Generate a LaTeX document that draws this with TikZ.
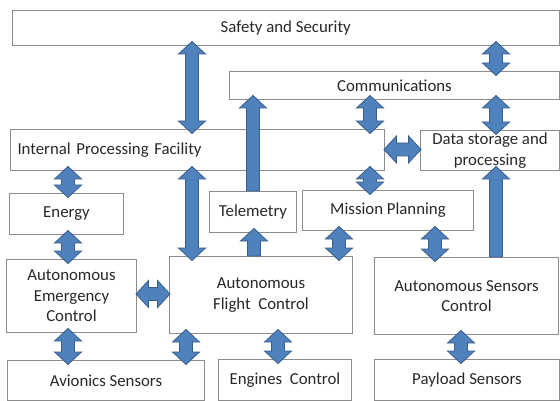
\documentclass[tikz,border=0pt]{standalone}
\usepackage{fontspec}
\setmainfont{Carlito}
\usetikzlibrary{calc}
\definecolor{boxline}{RGB}{140,140,140}
\definecolor{arrfill}{RGB}{79,129,189}
\definecolor{arrline}{RGB}{56,93,138}
\definecolor{txt}{RGB}{40,40,40}
\def\ahw{13.5pt}\def\asw{6.5pt}\def\ahl{12.5pt}\def\aov{4.5pt}\def\hov{1pt}
\tikzset{
  box/.style={draw=boxline, line width=1pt, fill=white, text=txt,
    font=\fontsize{16.8pt}{20.5pt}\selectfont, align=center, inner sep=0pt,
    anchor=north west},
  blockarrow/.style={fill=arrfill, draw=arrline, line width=0.8pt, line join=miter}
}
% [opts]{name}{x1}{y1}{x2}{y2}{text}
\newcommand\mkbox[7][]{\node[box, minimum width={(#5-#3)*1pt}, minimum height={(#6-#4)*1pt}, #1] (#2) at (#3,#4) {#7};}
% vertical double arrow: {x}{upper anchor}{lower anchor}
\newcommand\myvda[3]{\filldraw[blockarrow] let \p1=(#1,0 |- #2), \p2=(#1,0 |- #3) in
  (\x1,{\y1+\aov}) -- ({\x1+\ahw},{\y1+\aov-\ahl}) -- ({\x1+\asw},{\y1+\aov-\ahl})
  -- ({\x1+\asw},{\y2-\aov+\ahl}) -- ({\x1+\ahw},{\y2-\aov+\ahl}) -- (\x1,{\y2-\aov})
  -- ({\x1-\ahw},{\y2-\aov+\ahl}) -- ({\x1-\asw},{\y2-\aov+\ahl})
  -- ({\x1-\asw},{\y1+\aov-\ahl}) -- ({\x1-\ahw},{\y1+\aov-\ahl}) -- cycle;}
% single up arrow: {x}{lower anchor (base)}{upper anchor (tip)}
\newcommand\myua[3]{\filldraw[blockarrow] let \p1=(#1,0 |- #3), \p2=(#1,0 |- #2) in
  (\x1,{\y1+\aov}) -- ({\x1+\ahw},{\y1+\aov-\ahl}) -- ({\x1+\asw},{\y1+\aov-\ahl})
  -- ({\x1+\asw},\y2) -- ({\x1-\asw},\y2)
  -- ({\x1-\asw},{\y1+\aov-\ahl}) -- ({\x1-\ahw},{\y1+\aov-\ahl}) -- cycle;}
% horizontal double arrow: {y}{left anchor}{right anchor}
\newcommand\myhda[3]{\filldraw[blockarrow] let \p1=(#2 |- 0,#1), \p2=(#3 |- 0,#1) in
  ({\x1-\hov},\y1) -- ({\x1-\hov+\ahl},{\y1+\ahw}) -- ({\x1-\hov+\ahl},{\y1+\asw})
  -- ({\x2+\hov-\ahl},{\y1+\asw}) -- ({\x2+\hov-\ahl},{\y1+\ahw}) -- ({\x2+\hov},\y1)
  -- ({\x2+\hov-\ahl},{\y1-\ahw}) -- ({\x2+\hov-\ahl},{\y1-\asw})
  -- ({\x1-\hov+\ahl},{\y1-\asw}) -- ({\x1-\hov+\ahl},{\y1-\ahw}) -- cycle;}
\begin{document}
\begin{tikzpicture}[x=1pt,y=-1pt]
\fill[white] (0,0) rectangle (560,401);
\useasboundingbox (0,0) rectangle (560,401);
% boxes
\mkbox{safety}{12}{10}{558.5}{45}{Safety and Security}
\mkbox{comm}{229}{71}{559}{99}{Communications}
\mkbox[align=left, text width=360pt]{ipf}{10}{129}{384}{170}{Internal Processing Facility}
\mkbox{ds}{420}{130}{559}{170}{Data storage and\\processing}
\mkbox{energy}{9}{193}{123}{234}{Energy}
\mkbox{telem}{209}{191}{296}{232}{Telemetry}
\mkbox{mp}{302}{190}{473}{230}{Mission Planning}
\mkbox{aec}{6}{259}{136}{332}{Autonomous\\Emergency\\Control}
\mkbox{afc}{169}{256}{352}{333}{Autonomous\\Flight\ \ Control}
\mkbox{asc}{374}{257}{558}{334}{Autonomous Sensors\\Control}
\mkbox{avi}{7}{360}{204}{400}{Avionics Sensors}
\mkbox{eng}{218}{359}{351}{400}{Engines\ \ Control}
\mkbox{pay}{374}{359}{559}{400}{Payload Sensors}
% arrows
\myvda{192}{safety.south}{ipf.north}
\myvda{496}{safety.south}{comm.north}
\myvda{370}{comm.south}{ipf.north}
\myvda{496}{comm.south}{ds.north}
\myhda{149.5}{ipf.east}{ds.west}
\myua{253}{telem.north}{comm.south}
\myvda{68}{ipf.south}{energy.north}
\myvda{370}{ipf.south}{mp.north}
\myvda{192}{ipf.south}{afc.north}
\myua{496}{asc.north}{ds.south}
\myvda{68}{energy.south}{aec.north}
\myua{254}{afc.north}{telem.south}
\myvda{339}{mp.south}{afc.north}
\myvda{435}{mp.south}{asc.north}
\myhda{294}{aec.east}{afc.west}
\myvda{68}{aec.south}{avi.north}
\myvda{186}{afc.south}{avi.north}
\myvda{278}{afc.south}{eng.north}
\myvda{461}{asc.south}{pay.north}
\end{tikzpicture}
\end{document}
